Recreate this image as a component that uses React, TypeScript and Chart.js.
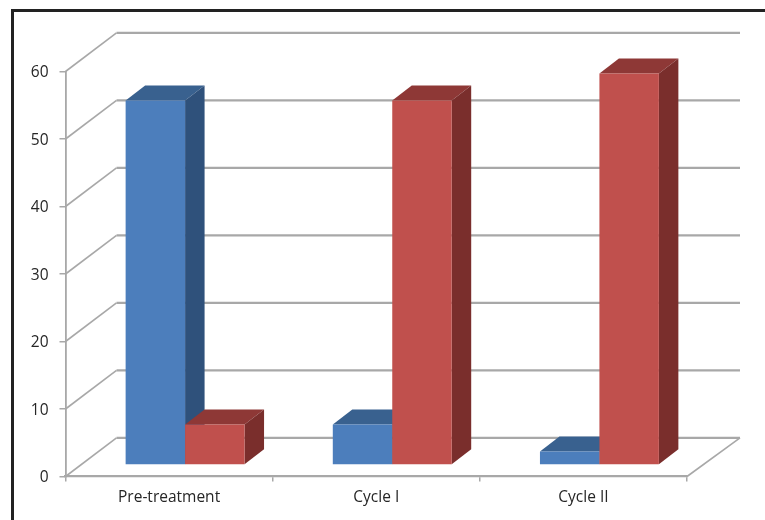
import React, { useEffect, useRef } from "react";
import { Chart, registerables } from "chart.js";

Chart.register(...registerables);

const categories = ["Pre-treatment", "Cycle I", "Cycle II"];
const seriesA = [54, 6, 2];
const seriesB = [6, 54, 58];
const yTicks = [0, 10, 20, 30, 40, 50, 60];

const palette = [
  { front: "#4C7EBC", top: "#39618F", side: "#2F517B" },
  { front: "#C0504D", top: "#8E3836", side: "#7A2E2C" },
];

const GRID = "#A8A8A8";
const FONT = '"Open Sans", sans-serif';

const scene3d = {
  id: "scene3d",
  beforeDatasetsDraw(chart: any) {
    const { ctx, chartArea } = chart;
    const y = chart.scales.y;
    const { left, right } = chartArea;
    const backL = left + 51;
    const backR = right + 53;
    const dy = 38.7;
    ctx.save();
    ctx.strokeStyle = GRID;
    ctx.lineCap = "butt";
    yTicks.forEach((t) => {
      const py = y.getPixelForValue(t);
      ctx.lineWidth = 1.6;
      ctx.beginPath();
      ctx.moveTo(left, py);
      ctx.lineTo(backL, py - dy);
      ctx.stroke();
      ctx.lineWidth = 2.2;
      ctx.beginPath();
      ctx.moveTo(backL, py - dy);
      ctx.lineTo(backR, py - dy);
      ctx.stroke();
    });
    const y0 = y.getPixelForValue(0);
    ctx.lineWidth = 1.6;
    ctx.beginPath();
    ctx.moveTo(right, y0);
    ctx.lineTo(backR, y0 - dy);
    ctx.stroke();

    const offX = 16;
    const offY = -11.5;
    const dX = 19.5;
    const dY = -15;
    chart.getSortedVisibleDatasetMetas().forEach((meta: any, di: number) => {
      const colors = palette[di];
      meta.data.forEach((el: any) => {
        const { x, y: top, base, width } = el.getProps(["x", "y", "base", "width"], true);
        const l = x - width / 2 + offX;
        const r = x + width / 2 + offX;
        const t = top + offY;
        const b = base + offY;
        ctx.fillStyle = colors.top;
        ctx.beginPath();
        ctx.moveTo(l, t);
        ctx.lineTo(l + dX, t + dY);
        ctx.lineTo(r + dX, t + dY);
        ctx.lineTo(r, t);
        ctx.closePath();
        ctx.fill();
        ctx.fillStyle = colors.side;
        ctx.beginPath();
        ctx.moveTo(r, t);
        ctx.lineTo(r + dX, t + dY);
        ctx.lineTo(r + dX, b + dY);
        ctx.lineTo(r, b);
        ctx.closePath();
        ctx.fill();
        ctx.save();
        ctx.translate(offX, offY);
        el.draw(ctx, { left: 0, top: 0, right: 765, bottom: 520 });
        ctx.restore();
      });
    });
    ctx.restore();
    return false;
  },
};

export default function App() {
  const ref = useRef<HTMLCanvasElement>(null);
  useEffect(() => {
    const chart = new Chart(ref.current!, {
      type: "bar",
      data: {
        labels: categories,
        datasets: [
          { label: "A", data: seriesA, backgroundColor: palette[0].front, borderWidth: 0 },
          { label: "B", data: seriesB, backgroundColor: palette[1].front, borderWidth: 0 },
        ],
      },
      options: {
        responsive: false,
        animation: false,
        devicePixelRatio: 1,
        layout: { padding: { top: 71.5, right: 78, left: 0, bottom: 0 } },
        datasets: { bar: { categoryPercentage: 0.574, barPercentage: 1 } },
        plugins: { legend: { display: false }, tooltip: { enabled: false } },
        scales: {
          x: {
            afterFit(s: any) { s.height = 43.5; },
            grid: { drawOnChartArea: false, color: GRID, tickLength: 5, lineWidth: 1.5 },
            border: { color: GRID, width: 2.2 },
            ticks: { color: "#262626", font: { family: FONT, size: 15.5 }, padding: 7, maxRotation: 0, autoSkip: false },
          },
          y: {
            min: 0,
            max: 60,
            afterFit(s: any) { s.width = 65.5; },
            grid: { drawOnChartArea: false, color: GRID, tickLength: 6, lineWidth: 1.5 },
            border: { color: GRID, width: 1.8 },
            ticks: { stepSize: 10, color: "#262626", font: { family: FONT, size: 15.5 }, padding: 11, labelOffset: 1.5 },
          },
        },
      },
      plugins: [scene3d],
    } as any);
    return () => chart.destroy();
  }, []);
  return (
    <div style={{ position: "absolute", left: 0, top: 0, width: 765, height: 520, background: "#fff", overflow: "hidden" }}>
      <canvas ref={ref} width={765} height={520} style={{ position: "absolute", left: 0, top: 0, filter: "blur(0.4px)" }} />
      <div style={{ position: "absolute", left: 11, top: 9, width: 754, height: 511, boxSizing: "border-box", borderTop: "3px solid #222", borderLeft: "3px solid #222" }} />
    </div>
  );
}
